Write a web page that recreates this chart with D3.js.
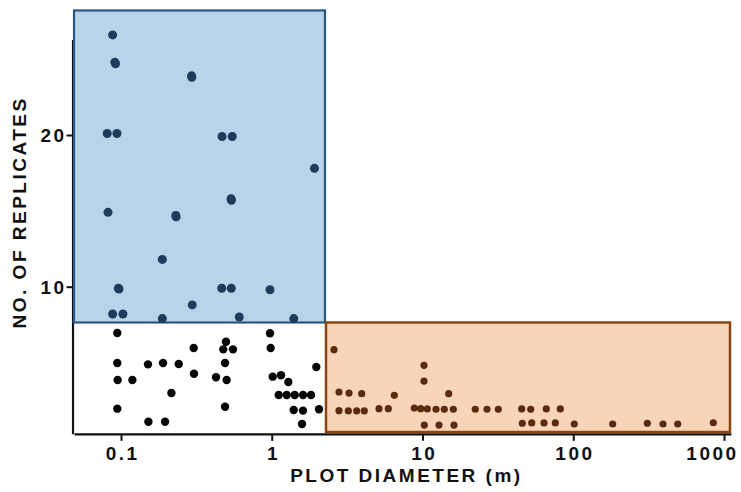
<!DOCTYPE html>
<html>
<head>
<meta charset="utf-8">
<script src="https://cdn.jsdelivr.net/npm/d3@7"></script>
<style>
  html, body { margin: 0; padding: 0; background: #fff; }
  svg { display: block; }
  text { font-family: "Liberation Sans", Arial, Helvetica, sans-serif; font-weight: bold; fill: #111; }
</style>
</head>
<body>
<svg id="chart" width="741" height="492"></svg>
<script>
// ---- data ----
const xTickValues = [0.1, 1, 10, 100, 1000];
const xTickLabels = ["0.1", "1", "10", "100", "1000"];
const yTickValues = [10, 20];
const yTickLabels = ["10", "20"];
const xTitle = "PLOT DIAMETER (m)";
const yTitle = "NO. OF REPLICATES";

// highlighted regions: [xMin, xMax, yMin, yMax]
const blueRegion = [0.0488, 2.255, 7.64, 28.21];
const orangeRegion = [2.29, 1096, 0.42, 7.64];

// points in the blue region (diameter m, replicates)
const blueDiam = [0.088, 0.091, 0.092, 0.294, 0.295, 0.081, 0.094, 0.468, 0.547, 1.92, 0.537, 0.540,
  0.082, 0.231, 0.232, 0.188, 0.096, 0.097, 0.466, 0.539, 0.974, 0.297, 0.088, 0.103, 0.188, 0.609, 1.40];
const blueRep = [26.6, 24.8, 24.7, 23.9, 23.8, 20.1, 20.1, 19.9, 19.9, 17.8, 15.8, 15.7,
  14.9, 14.7, 14.6, 11.8, 9.9, 9.85, 9.9, 9.9, 9.8, 8.8, 8.2, 8.2, 7.9, 8.0, 7.9];

// points in the white region
const blackDiam = [0.0945, 0.974, 0.497, 0.3035, 0.477, 0.553, 0.984, 0.0945, 0.151, 0.190, 0.2415, 0.490,
  1.975, 0.305, 0.095, 0.119, 0.427, 0.502, 1.015, 1.152, 1.288, 0.216, 1.112, 1.257, 1.420, 1.612, 1.822,
  0.0945, 0.490, 1.398, 1.612, 2.058, 0.152, 0.196, 1.588];
const blackRep = [6.95, 6.93, 6.37, 5.96, 5.87, 5.87, 5.96, 4.97, 4.88, 4.97, 4.90, 4.97,
  4.71, 4.26, 3.85, 3.85, 4.03, 3.85, 4.07, 4.16, 3.72, 2.99, 2.86, 2.86, 2.86, 2.86, 2.86,
  1.96, 2.09, 1.87, 1.83, 1.92, 1.10, 1.10, 0.95];

// points in the orange region
const brownDiam = [2.588, 10.23, 10.23, 2.793, 3.254, 3.952, 6.502, 14.92, 2.793, 3.220, 3.660, 4.111,
  5.145, 5.931, 8.821, 9.728, 10.76, 12.29, 13.95, 16.01, 22.40, 26.79, 31.83, 45.50, 52.22, 66.25, 82.07,
  10.28, 12.87, 16.18, 45.92, 53.02, 63.97, 76.03, 101.6, 182.7, 309.9, 393.9, 493.1, 849.2];
const brownRep = [5.85, 4.82, 3.78, 3.06, 2.99, 2.95, 2.84, 2.95, 1.83, 1.81, 1.81, 1.81,
  1.96, 1.96, 2.00, 1.96, 1.94, 1.92, 1.92, 1.92, 1.92, 1.92, 1.92, 1.94, 1.92, 1.94, 1.94,
  0.88, 0.88, 0.88, 1.00, 1.02, 1.02, 1.02, 0.95, 0.95, 1.00, 0.95, 0.95, 1.03];

// ---- scales ----
const svg = d3.select("#chart");
const x = d3.scaleLog().domain([0.1, 1000]).range([121, 724]);
const y = d3.scaleLinear().domain([10, 20]).range([286.7, 135]);

const xAxisDomain = [0.0488, 1110];
const yAxisDomain = [0.3, 26.3];

// ---- axes ----
const xAxisScale = x.copy().domain(xAxisDomain).range(xAxisDomain.map(x));
const yAxisScale = y.copy().domain(yAxisDomain).range(yAxisDomain.map(y));
const xAxisY = y(yAxisDomain[0]);
const yAxisX = x(xAxisDomain[0]) - 1.5;

const gx = svg.append("g").attr("transform", `translate(0,${xAxisY})`)
  .call(d3.axisBottom(xAxisScale).tickValues(xTickValues)
    .tickFormat((d, i) => xTickLabels[i]).tickSize(7).tickSizeOuter(0));
gx.select(".domain").attr("stroke", "#111").attr("stroke-width", 2.2);
gx.selectAll(".tick line").attr("stroke", "#111").attr("stroke-width", 2);
gx.selectAll(".tick text")
  .attr("y", 26).attr("dy", 0)
  .attr("dx", (d, i) => i === xTickValues.length - 1 ? -12 : 1.2)
  .style("font-size", "19px").style("letter-spacing", "2.5px").attr("fill", "#111");

const gy = svg.append("g").attr("transform", `translate(${yAxisX},0)`)
  .call(d3.axisLeft(yAxisScale).tickValues(yTickValues)
    .tickFormat((d, i) => yTickLabels[i]).tickSize(6).tickSizeOuter(0));
gy.select(".domain").attr("stroke", "#111").attr("stroke-width", 2.2);
gy.selectAll(".tick line").attr("stroke", "#111").attr("stroke-width", 2);
gy.selectAll(".tick text")
  .attr("x", -6).attr("dy", "0.36em")
  .style("font-size", "19px").style("letter-spacing", "2.5px").attr("fill", "#111");

// ---- highlight regions ----
function region(r, fill, stroke, sw) {
  svg.append("rect")
    .attr("x", x(r[0])).attr("y", y(r[3]))
    .attr("width", x(r[1]) - x(r[0])).attr("height", y(r[2]) - y(r[3]))
    .attr("fill", fill).attr("stroke", stroke).attr("stroke-width", sw);
}
region(blueRegion, "#b8d4eb", "#2a5783", 2.2);
region(orangeRegion, "#f8d4b9", "#8a4517", 2.5);

// ---- points ----
function dots(xs, ys, color, r) {
  svg.append("g").selectAll("circle")
    .data(xs.map((d, i) => [d, ys[i]]))
    .join("circle")
    .attr("cx", d => x(d[0])).attr("cy", d => y(d[1]))
    .attr("r", r).attr("fill", color);
}
dots(blueDiam, blueRep, "#1d3b5a", 4.5);
dots(blackDiam, blackRep, "#050505", 4.2);
dots(brownDiam, brownRep, "#5a2c0d", 3.6);

// ---- titles ----
svg.append("text")
  .attr("x", (x(xAxisDomain[0]) + x(xAxisDomain[1])) / 2 + 4)
  .attr("y", 482)
  .attr("text-anchor", "middle")
  .style("font-size", "19px").style("letter-spacing", "2.5px")
  .text(xTitle);

svg.append("text")
  .attr("transform", `translate(26,${y(14.9)}) rotate(-90)`)
  .attr("text-anchor", "middle")
  .style("font-size", "19px").style("letter-spacing", "2.5px")
  .text(yTitle);
</script>
</body>
</html>
